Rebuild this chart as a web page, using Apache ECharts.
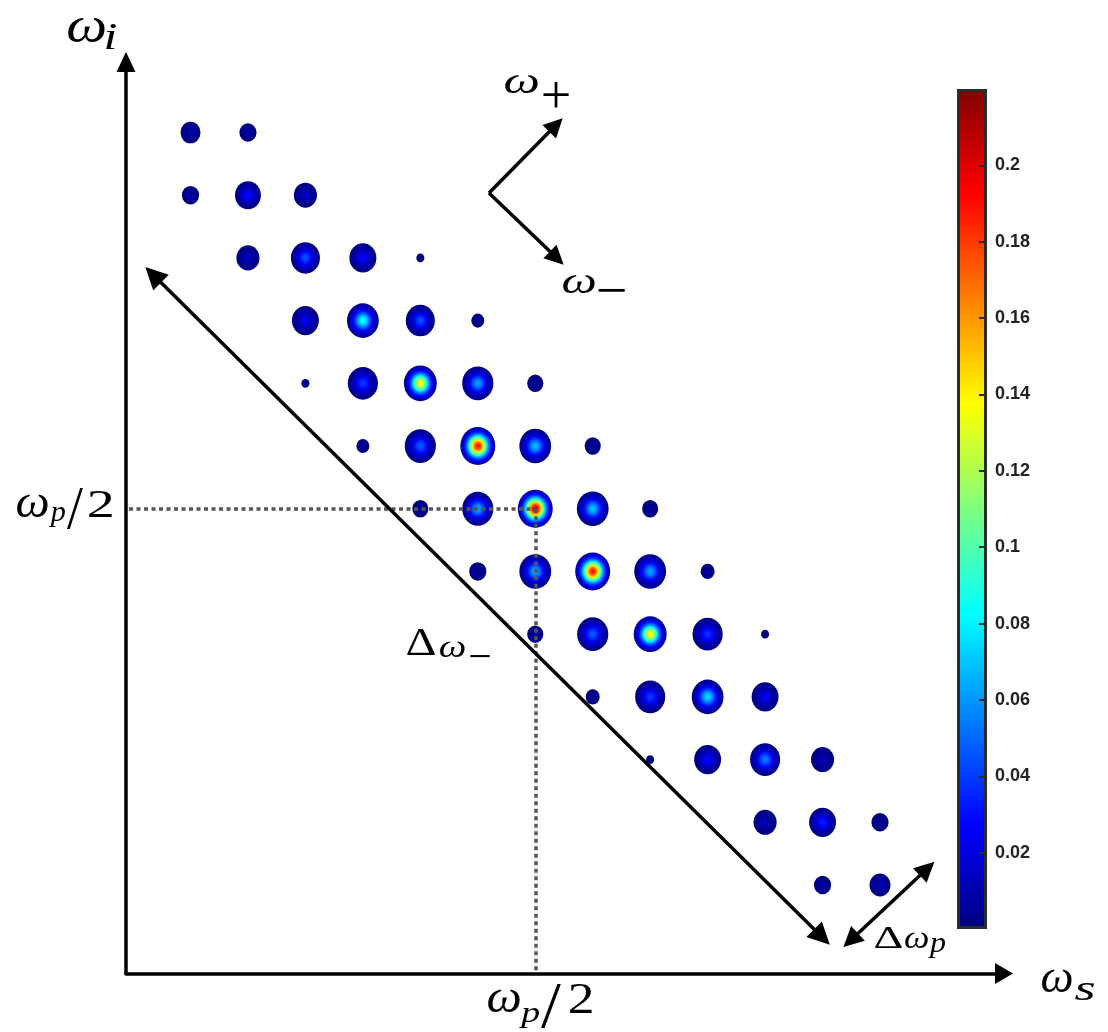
<!DOCTYPE html>
<html><head><meta charset="utf-8">
<script src="https://cdn.jsdelivr.net/npm/echarts@6/dist/echarts.min.js"></script>
<style>html,body{margin:0;padding:0;background:#fff}#c{width:1108px;height:1032px}</style>
</head><body><div id="c"></div>
<script>
// ---- data ----
const cbMin = 0, cbMax = 0.22, cbStep = 0.02;            // colour bar range / tick step
// spots of the joint spectral intensity (row by row, from the top)
const signalBin = [0,1, 0,1,2, 1,2,3,4, 2,3,4,5, 2,3,4,5,6, 3,4,5,6,7, 4,5,6,7,8, 5,6,7,8,9, 6,7,8,9,10, 7,8,9,10, 8,9,10,11, 10,11,12, 11,12];
const idlerBin  = [12,12, 11,11,11, 10,10,10,10, 9,9,9,9, 8,8,8,8,8, 7,7,7,7,7, 6,6,6,6,6, 5,5,5,5,5, 4,4,4,4,4, 3,3,3,3, 2,2,2,2, 1,1,1, 0,0];
const spotSize  = [0.57,0.49, 0.49,0.74,0.66, 0.66,0.83,0.77,0.23, 0.77,0.91,0.83,0.37, 0.23,0.86,0.94,0.89,0.46,
                   0.37,0.89,1.0,0.91,0.46, 0.46,0.89,1.0,0.91,0.46, 0.49,0.91,1.0,0.91,0.40, 0.46,0.89,0.94,0.86,0.23,
                   0.40,0.86,0.91,0.77, 0.23,0.77,0.86,0.66, 0.66,0.77,0.49, 0.49,0.60];
const spotPeak  = [0.010,0.008, 0.008,0.030,0.015, 0.015,0.046,0.028,0.002, 0.025,0.085,0.045,0.005, 0.002,0.040,0.140,0.062,0.006,
                   0.005,0.048,0.190,0.068,0.006, 0.006,0.065,0.205,0.070,0.006, 0.006,0.065,0.190,0.062,0.005, 0.006,0.048,0.140,0.038,0.002,
                   0.005,0.040,0.075,0.025, 0.002,0.028,0.055,0.012, 0.012,0.035,0.006, 0.008,0.012];
const centerBin = 6;   // omega_p / 2

// ---- layout / style ----
const xMin = -1.1226, xMax = 14.158, yMin = -1.4113, yMax = 13.124;
const SPOT = 35, ASPECT = 1.085, FALLOFF = 3.2;

function clamp(v){ return Math.max(0, Math.min(1, v)); }
function jet(v){
  const t = clamp((v - cbMin) / (cbMax - cbMin));
  const r = clamp(1.5 - Math.abs(4*t - 3)), g = clamp(1.5 - Math.abs(4*t - 2)), b = clamp(1.5 - Math.abs(4*t - 1));
  return 'rgb(' + Math.round(r*255) + ',' + Math.round(g*255) + ',' + Math.round(b*255) + ')';
}
function radial(peak){
  const stops = [];
  for (let k = 0; k <= 10; k++) {
    const o = k / 10;
    stops.push({offset:o, color: jet(peak * Math.exp(-FALLOFF * o * o))});
  }
  return {type:'radial', x:0.5, y:0.5, r:0.5, colorStops:stops};
}
const cbStops = [0, 0.125, 0.375, 0.625, 0.875, 1].map(t => ({offset:t, color: jet(cbMin + t*(cbMax-cbMin))}));

const spots = signalBin.map((s, i) => ({
  value:[s, idlerBin[i]],
  symbolSize:[spotSize[i]*SPOT, spotSize[i]*SPOT*ASPECT],
  itemStyle:{color: radial(spotPeak[i]), opacity:1}
}));

// annotation lines in data coordinates
const dottedH = [[-1.07, centerBin], [centerBin, centerBin]];
const dottedV = [[centerBin, centerBin], [centerBin, yMin]];
const diagArrow = [[-0.65, 9.73], [10.99, -0.83]];
const dpArrow = [[11.49, -0.88], [12.82, 0.26]];
const cornerPt = [5.195, 11.035];
const plusEnd = [6.36, 12.12];
const minusEnd = [6.375, 9.997];

// ---- text fitted to ink boxes ----
const SERIF = '"Liberation Serif", "DejaVu Serif", serif';
const mctx = document.createElement('canvas').getContext('2d');
function fit(s, italic, L, T, R, B, mode){
  const pre = italic ? 'italic ' : '';
  mctx.font = pre + '100px ' + SERIF;
  mctx.textBaseline = 'middle'; mctx.textAlign = 'left';
  const m = mctx.measureText(s);
  const a = m.actualBoundingBoxAscent, d = m.actualBoundingBoxDescent, l = m.actualBoundingBoxLeft, r = m.actualBoundingBoxRight;
  let F, sx, y;
  if (mode === 'w') { F = 100*(R-L)/(l+r); sx = 1; }
  else { F = 100*(B-T)/(a+d); sx = (R-L)/((l+r)*F/100); }
  const k = F/100;
  if (mode === 'w') y = (T+B)/2 - (d-a)*k/2; else y = T + a*k;
  const x = L + sx*l*k;
  return {type:'text', x:x, y:y, scaleX:sx, silent:true, z:10,
    style:{text:s, font: pre + F.toFixed(2) + 'px ' + SERIF, fill:'#000', align:'left', verticalAlign:'middle'}};
}

const labels = [
  fit('ω', true, 68, 18, 105, 42), fit('i', true, 106, 24, 116, 49),
  fit('ω', true, 1042, 970, 1072, 992), fit('s', true, 1075, 983, 1094, 1000),
  fit('ω', true, 488, 990, 520, 1012), fit('p', true, 519, 1007, 539, 1028), fit('/', false, 541, 984, 561, 1028), fit('2', false, 570, 983, 592, 1013),
  fit('ω', true, 17, 495, 48, 517), fit('p', true, 49, 507, 65, 527), fit('/', false, 67, 488, 83, 529), fit('2', false, 89, 490, 112, 517),
  fit('ω', true, 505, 75, 538, 93), fit('+', false, 543, 84, 569, 106, 'w'),
  fit('ω', true, 563, 275, 595, 293), fit('−', false, 598, 289, 625, 291, 'w'),
  fit('Δ', false, 407, 628, 435, 655), fit('ω', true, 440, 642, 465, 657), fit('−', false, 470, 655, 490, 657, 'w'),
  fit('Δ', false, 875, 927, 902, 948), fit('ω', true, 905, 933, 928, 948), fit('p', true, 928, 938, 945, 958)
];

const tri = n => ({symbol:'triangle', symbolSize:n});

const option = {
  animation:false,
  backgroundColor:'#fff',
  grid:[{left:126, right:104, top:62, bottom:58.5}, {left:957, width:30, top:89, height:840}],
  xAxis:[
    {type:'value', gridIndex:0, min:xMin, max:xMax,
     axisLine:{show:true, onZero:false, symbol:['none','triangle'], symbolSize:[21,18], lineStyle:{color:'#000', width:3.5}},
     axisTick:{show:false}, axisLabel:{show:false}, splitLine:{show:false}},
    {type:'category', gridIndex:1, data:['cb'], show:false}
  ],
  yAxis:[
    {type:'value', gridIndex:0, min:yMin, max:yMax,
     axisLine:{show:true, onZero:false, symbol:['none','triangle'], symbolSize:[19,20], lineStyle:{color:'#000', width:3.5}},
     axisTick:{show:false}, axisLabel:{show:false}, splitLine:{show:false}},
    {type:'value', gridIndex:1, min:cbMin, max:cbMax, interval:cbStep, position:'right', z:5,
     axisLine:{show:false},
     axisTick:{show:true, inside:true, length:8, lineStyle:{color:'#2b2b2b', width:2}},
     axisLabel:{show:true, margin:8, color:'#222', fontSize:18, fontWeight:'bold', fontFamily:'Liberation Sans',
       showMinLabel:false, showMaxLabel:false, formatter: v => String(+v.toFixed(2))},
     splitLine:{show:false}}
  ],
  series:[
    {type:'bar', xAxisIndex:1, yAxisIndex:1, data:[cbMax], barWidth:'100%', silent:true,
     itemStyle:{color:{type:'linear', x:0, y:1, x2:0, y2:0, colorStops:cbStops}, borderColor:'#2b2b2b', borderWidth:3}},
    {type:'scatter', xAxisIndex:0, yAxisIndex:0, symbol:'circle', silent:true, data:spots, itemStyle:{opacity:1},
     markLine:{silent:true, symbol:'none', label:{show:false}, animation:false,
       lineStyle:{color:'#555', width:3.5, type:[4,3.5]},
       data:[[{coord:dottedH[0]}, {coord:dottedH[1]}], [{coord:dottedV[0]}, {coord:dottedV[1]}]]}},
    {type:'scatter', xAxisIndex:0, yAxisIndex:0, silent:true, data:[],
     markLine:{silent:true, symbol:'none', label:{show:false}, animation:false, z:6,
       lineStyle:{color:'#000', width:3.5, type:'solid'},
       data:[
         [Object.assign({coord:diagArrow[0]}, tri(22)), Object.assign({coord:diagArrow[1]}, tri(22))],
         [Object.assign({coord:dpArrow[0]}, tri(20)), Object.assign({coord:dpArrow[1]}, tri(20))],
         [{coord:cornerPt, symbol:'none'}, Object.assign({coord:plusEnd}, tri(19))],
         [{coord:cornerPt, symbol:'none'}, Object.assign({coord:minusEnd}, tri(19))]
       ]}}
  ],
  graphic: labels
};
const chart = echarts.init(document.getElementById('c'), null, {renderer:'canvas'});
chart.setOption(option);
</script>
</body></html>
